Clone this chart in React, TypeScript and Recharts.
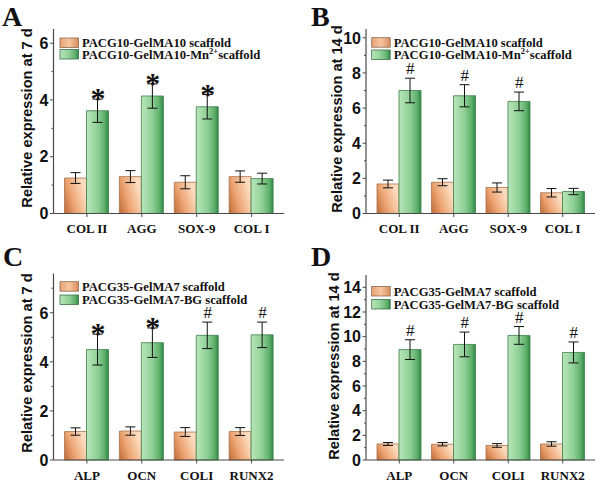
import React from "react";
import { ComposedChart, Bar, Line, XAxis, YAxis, ErrorBar } from "recharts";

// ---------- data ----------
const categoriesAB = ["COL II", "AGG", "SOX-9", "COL I"];
const categoriesCD = ["ALP", "OCN", "COLI", "RUNX2"];

const aCtrl = [1.25, 1.3, 1.1, 1.3];
const aCtrlErr = [0.19, 0.21, 0.23, 0.2];
const aTrt = [3.62, 4.14, 3.76, 1.23];
const aTrtErr = [0.41, 0.43, 0.43, 0.19];
const aSig = ["*", "*", "*", ""];

const bCtrl = [1.68, 1.78, 1.48, 1.18];
const bCtrlErr = [0.22, 0.2, 0.26, 0.24];
const bTrt = [7.0, 6.7, 6.38, 1.25];
const bTrtErr = [0.7, 0.63, 0.53, 0.18];
const bSig = ["#", "#", "#", ""];

const cCtrl = [1.16, 1.18, 1.14, 1.16];
const cCtrlErr = [0.15, 0.17, 0.18, 0.16];
const cTrt = [4.5, 4.78, 5.08, 5.1];
const cTrtErr = [0.63, 0.6, 0.54, 0.52];
const cSig = ["*", "*", "#", "#"];

const dCtrl = [1.3, 1.28, 1.18, 1.3];
const dCtrlErr = [0.12, 0.14, 0.15, 0.18];
const dTrt = [8.95, 9.37, 10.1, 8.72];
const dTrtErr = [0.8, 1.0, 0.72, 0.85];
const dSig = ["#", "#", "#", "#"];

const ticksA = [0, 1, 2, 3, 4, 5, 6];
const ticksB = [0, 1, 2, 3, 4, 5, 6, 7, 8, 9, 10];
const ticksC = [0, 1, 2, 3, 4, 5, 6, 7];
const ticksD = [0, 1, 2, 3, 4, 5, 6, 7, 8, 9, 10, 11, 12, 13, 14];

const legendCtrlAB = "PACG10-GelMA10 scaffold";
const legendTrtAB = ["PACG10-GelMA10-Mn", "2+", "scaffold"];
const legendCtrlCD = "PACG35-GelMA7 scaffold";
const legendTrtCD = ["PACG35-GelMA7-BG scaffold", "", ""];

const yLabel7 = "Relative expression at 7 d";
const yLabel14 = "Relative expression at 14 d";

// ---------- style ----------
const AX = "#4a4a4a";
const BAR = 22;
const SANS = "'Liberation Sans', Arial, sans-serif";
const SERIF = "'Liberation Serif', 'Times New Roman', serif";

const panels = [
  { id: "A", x: 0, y: 0, h: 240, cats: categoriesAB, ctrl: aCtrl, ctrlErr: aCtrlErr, trt: aTrt, trtErr: aTrtErr, sig: aSig, max: 6.5, ticks: ticksA,
    margin: { top: 29, right: 16, left: 0, bottom: 0 }, yw: 53.5, xh: 26.5 },
  { id: "B", x: 300, y: 0, h: 240, cats: categoriesAB, ctrl: bCtrl, ctrlErr: bCtrlErr, trt: bTrt, trtErr: bTrtErr, sig: bSig, max: 10.5, ticks: ticksB,
    margin: { top: 29, right: 5, left: 0, bottom: 0 }, yw: 66, xh: 26.5 },
  { id: "C", x: 0, y: 240, h: 243, cats: categoriesCD, ctrl: cCtrl, ctrlErr: cCtrlErr, trt: cTrt, trtErr: cTrtErr, sig: cSig, max: 7.6, ticks: ticksC,
    margin: { top: 33.5, right: 16, left: 0, bottom: 0 }, yw: 53.5, xh: 23 },
  { id: "D", x: 300, y: 240, h: 243, cats: categoriesCD, ctrl: dCtrl, ctrlErr: dCtrlErr, trt: dTrt, trtErr: dTrtErr, sig: dSig, max: 15, ticks: ticksD,
    margin: { top: 35, right: 5, left: 0, bottom: 0 }, yw: 66, xh: 23 },
];

const YTick = (p: any) => {
  const { x, y, payload } = p;
  const major = payload.value % 2 === 0;
  return (
    <g>
      <line x1={x - (major ? 3.5 : 2)} x2={x} y1={y} y2={y} stroke={AX} strokeWidth={1} />
      {major && (
        <text x={x - 5} y={y} dy="0.36em" textAnchor="end" fontFamily={SANS} fontWeight="bold" fontSize={16} fill="#111">
          {payload.value}
        </text>
      )}
    </g>
  );
};

const XTick = (p: any) => {
  const { x, y, payload } = p;
  return (
    <g>
      <line x1={x} x2={x} y1={y} y2={y + 3.5} stroke={AX} strokeWidth={1} />
      <text x={x} y={y + 19.5} textAnchor="middle" fontFamily={SERIF} fontWeight="bold" fontSize={13} fill="#111">
        {payload.value}
      </text>
    </g>
  );
};

const SigMark = (p: any) => {
  const { cx, cy, payload, index } = p;
  if (!payload || !payload.sig) return <g key={`s${index}`} />;
  const isStar = payload.sig === "*";
  return (
    <text
      key={`s${index}`}
      x={cx + BAR / 2}
      y={isStar ? cy + 9 : cy - 4}
      textAnchor="middle"
      fontFamily={SERIF}
      fontWeight={isStar ? "bold" : "normal"}
      fontSize={isStar ? 30 : 17}
      fill="#111"
    >
      {payload.sig}
    </text>
  );
};

function Panel({ s }: { s: any }) {
  const data = s.cats.map((c: string, i: number) => ({
    cat: c,
    ctrl: s.ctrl[i],
    ctrlErr: s.ctrlErr[i],
    trt: s.trt[i],
    trtErr: s.trtErr[i],
    sigTop: s.trt[i] + s.trtErr[i],
    sig: s.sig[i],
  }));
  return (
    <div style={{ position: "absolute", left: s.x, top: s.y, width: 300, height: s.h }}>
      <ComposedChart width={300} height={s.h} data={data} margin={s.margin} barGap={0} barSize={BAR}>
        <XAxis
          dataKey="cat"
          tick={XTick}
          tickSize={0}
          tickMargin={0}
          tickLine={false}
          height={s.xh}
          interval={0}
          axisLine={{ stroke: AX, strokeWidth: 1.2 }}
          padding={{ left: 6, right: 5 }}
        />
        <XAxis
          xAxisId="top"
          orientation="top"
          dataKey="cat"
          tick={false}
          tickLine={false}
          height={0}
          axisLine={{ stroke: AX, strokeWidth: 1.2 }}
          padding={{ left: 6, right: 5 }}
        />
        <YAxis
          domain={[0, s.max]}
          ticks={s.ticks}
          interval={0}
          tick={YTick}
          tickSize={0}
          tickMargin={0}
          tickLine={false}
          width={s.yw}
          axisLine={{ stroke: AX, strokeWidth: 1.2 }}
        />
        <YAxis
          yAxisId="right"
          orientation="right"
          domain={[0, s.max]}
          tick={false}
          tickLine={false}
          width={0}
          axisLine={{ stroke: AX, strokeWidth: 1.2 }}
        />
        <Bar dataKey="ctrl" fill="url(#gradOrange)" stroke="#a8734b" strokeWidth={0.8} isAnimationActive={false}>
          <ErrorBar dataKey="ctrlErr" width={5} stroke="#111" strokeWidth={1} direction="y" />
        </Bar>
        <Bar dataKey="trt" fill="url(#gradGreen)" stroke="#3d7f4c" strokeWidth={0.8} isAnimationActive={false}>
          <ErrorBar dataKey="trtErr" width={5} stroke="#111" strokeWidth={1} direction="y" />
        </Bar>
        <Line dataKey="sigTop" stroke="none" dot={SigMark} activeDot={false} isAnimationActive={false} legendType="none" />
      </ComposedChart>
    </div>
  );
}

function LegendBox({ x, y1, y2, ctrl, trt }: any) {
  const tx = x + 22;
  return (
    <g>
      <rect x={x} y={y1} width={18.5} height={9.5} fill="url(#gradOrangeL)" stroke="#8a6a52" strokeWidth={0.8} />
      <rect x={x} y={y2} width={18.5} height={9.5} fill="url(#gradGreen)" stroke="#3d6f4c" strokeWidth={0.8} />
      <text x={tx} y={y1 + 9} fontFamily={SERIF} fontWeight="bold" fontSize={12.6} fill="#111">{ctrl}</text>
      <text x={tx} y={y2 + 9} fontFamily={SERIF} fontWeight="bold" fontSize={12.6} fill="#111">
        {trt[0]}
        {trt[1] ? <tspan dy={-5} fontSize={8.5}>{trt[1]}</tspan> : null}
        {trt[2] ? <tspan dy={5}>{trt[2]}</tspan> : null}
      </text>
    </g>
  );
}

export default function App() {
  return (
    <div style={{ position: "fixed", left: 0, top: 0, width: 600, height: 483, background: "#fff", overflow: "hidden" }}>
      {panels.map((s) => (
        <Panel key={s.id} s={s} />
      ))}
      <svg width={600} height={483} style={{ position: "absolute", left: 0, top: 0, pointerEvents: "none" }}>
        <defs>
          <linearGradient id="gradOrange" x1="0" y1="1" x2="1" y2="0.55">
            <stop offset="0" stopColor="#bf6a36" />
            <stop offset="0.45" stopColor="#eda573" />
            <stop offset="1" stopColor="#fcdcc0" />
          </linearGradient>
          <linearGradient id="gradOrangeL" x1="0" y1="0" x2="1" y2="0">
            <stop offset="0" stopColor="#e9a274" />
            <stop offset="0.5" stopColor="#f7c7a0" />
            <stop offset="1" stopColor="#d98c5c" />
          </linearGradient>
          <linearGradient id="gradGreen" x1="0" y1="0" x2="1" y2="0">
            <stop offset="0" stopColor="#b9e6b9" />
            <stop offset="0.5" stopColor="#8fd096" />
            <stop offset="0.82" stopColor="#5fb06c" />
            <stop offset="1" stopColor="#2f8a45" />
          </linearGradient>
        </defs>
        <text x={2} y={26} fontFamily={SERIF} fontWeight="bold" fontSize={28} fill="#111">A</text>
        <text x={311} y={26} fontFamily={SERIF} fontWeight="bold" fontSize={28} fill="#111">B</text>
        <text x={3} y={266} fontFamily={SERIF} fontWeight="bold" fontSize={28} fill="#111">C</text>
        <text x={311} y={266} fontFamily={SERIF} fontWeight="bold" fontSize={28} fill="#111">D</text>

        <text transform="translate(32,118) rotate(-90)" textAnchor="middle" fontFamily={SANS} fontWeight="bold" fontSize={14.6} fill="#111">{yLabel7}</text>
        <text transform="translate(342,119) rotate(-90)" textAnchor="middle" fontFamily={SANS} fontWeight="bold" fontSize={14.6} fill="#111">{yLabel14}</text>
        <text transform="translate(32,363) rotate(-90)" textAnchor="middle" fontFamily={SANS} fontWeight="bold" fontSize={14.6} fill="#111">{yLabel7}</text>
        <text transform="translate(339,366) rotate(-90)" textAnchor="middle" fontFamily={SANS} fontWeight="bold" fontSize={14.6} fill="#111">{yLabel14}</text>

        <LegendBox x={60} y1={38} y2={49.5} ctrl={legendCtrlAB} trt={legendTrtAB} />
        <LegendBox x={371.7} y1={37.7} y2={50} ctrl={legendCtrlAB} trt={legendTrtAB} />
        <LegendBox x={60} y1={281.7} y2={295} ctrl={legendCtrlCD} trt={legendTrtCD} />
        <LegendBox x={371.7} y1={286.5} y2={299.5} ctrl={legendCtrlCD} trt={legendTrtCD} />
      </svg>
    </div>
  );
}
